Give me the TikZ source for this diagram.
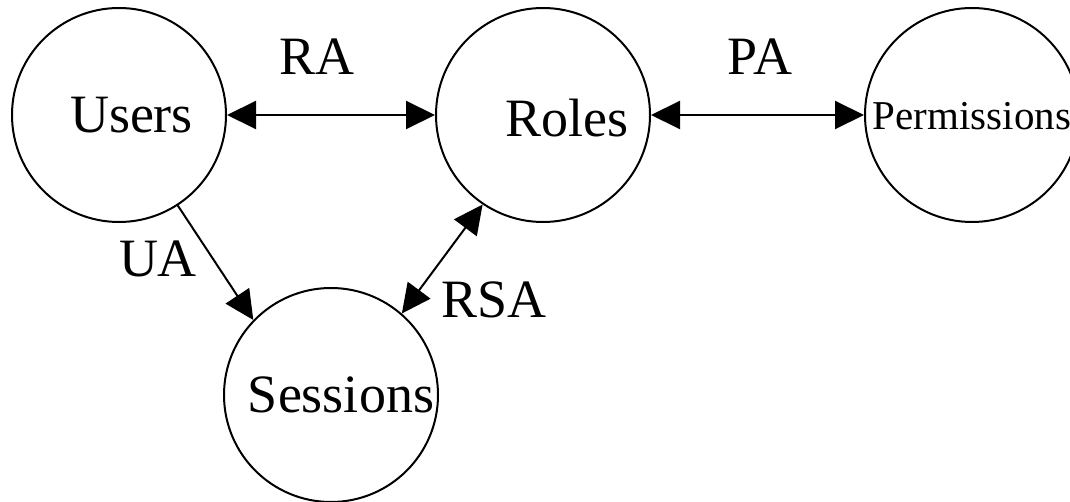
\documentclass[tikz,border=0pt]{standalone}
\usepackage{fontspec}
\setmainfont{Liberation Serif}
\usetikzlibrary{arrows.meta}
\begin{document}
\begin{tikzpicture}[x=1pt,y=-1pt,
  circ/.style={draw=black,circle,line width=2pt,minimum size=214pt,inner sep=0pt},
  big/.style={font=\fontsize{54}{60}\selectfont,anchor=base,inner sep=0pt},
  small/.style={font=\fontsize{41}{46}\selectfont,anchor=base,inner sep=0pt},
  conn/.style={line width=2pt,{Triangle[length=29pt,width=28pt]}-{Triangle[length=29pt,width=28pt]}},
  conn1/.style={line width=2pt,-{Triangle[length=29pt,width=28pt]}}]
\useasboundingbox (0,0) rectangle (1070,502);
\clip (0,0) rectangle (1070,502);
\node[circ] (users) at (119,115) {};
\node[circ] (roles) at (543,115) {};
\node[circ] (perm) at (972,115) {};
\node[circ] (sess) at (331,395) {};
\node[big] (tusers) at (131.5,133) {Users};
\node[big] (troles) at (567,137) {Roles};
\node[small] (tperm) at (972,130) {Permissions};
\node[big] (tsess) at (341,412) {Sessions};
\draw[conn] (users) -- (roles);
\draw[conn] (roles) -- (perm);
\draw[conn1] (users.-57) -- (sess.136);
\draw[conn] (roles.-124) -- (sess.49);
\node[big] (ra) at (317,75) {RA};
\node[big] (pa) at (760,75) {PA};
\node[big] (ua) at (158,277) {UA};
\node[big] (rsa) at (494,317) {RSA};
\end{tikzpicture}
\end{document}
